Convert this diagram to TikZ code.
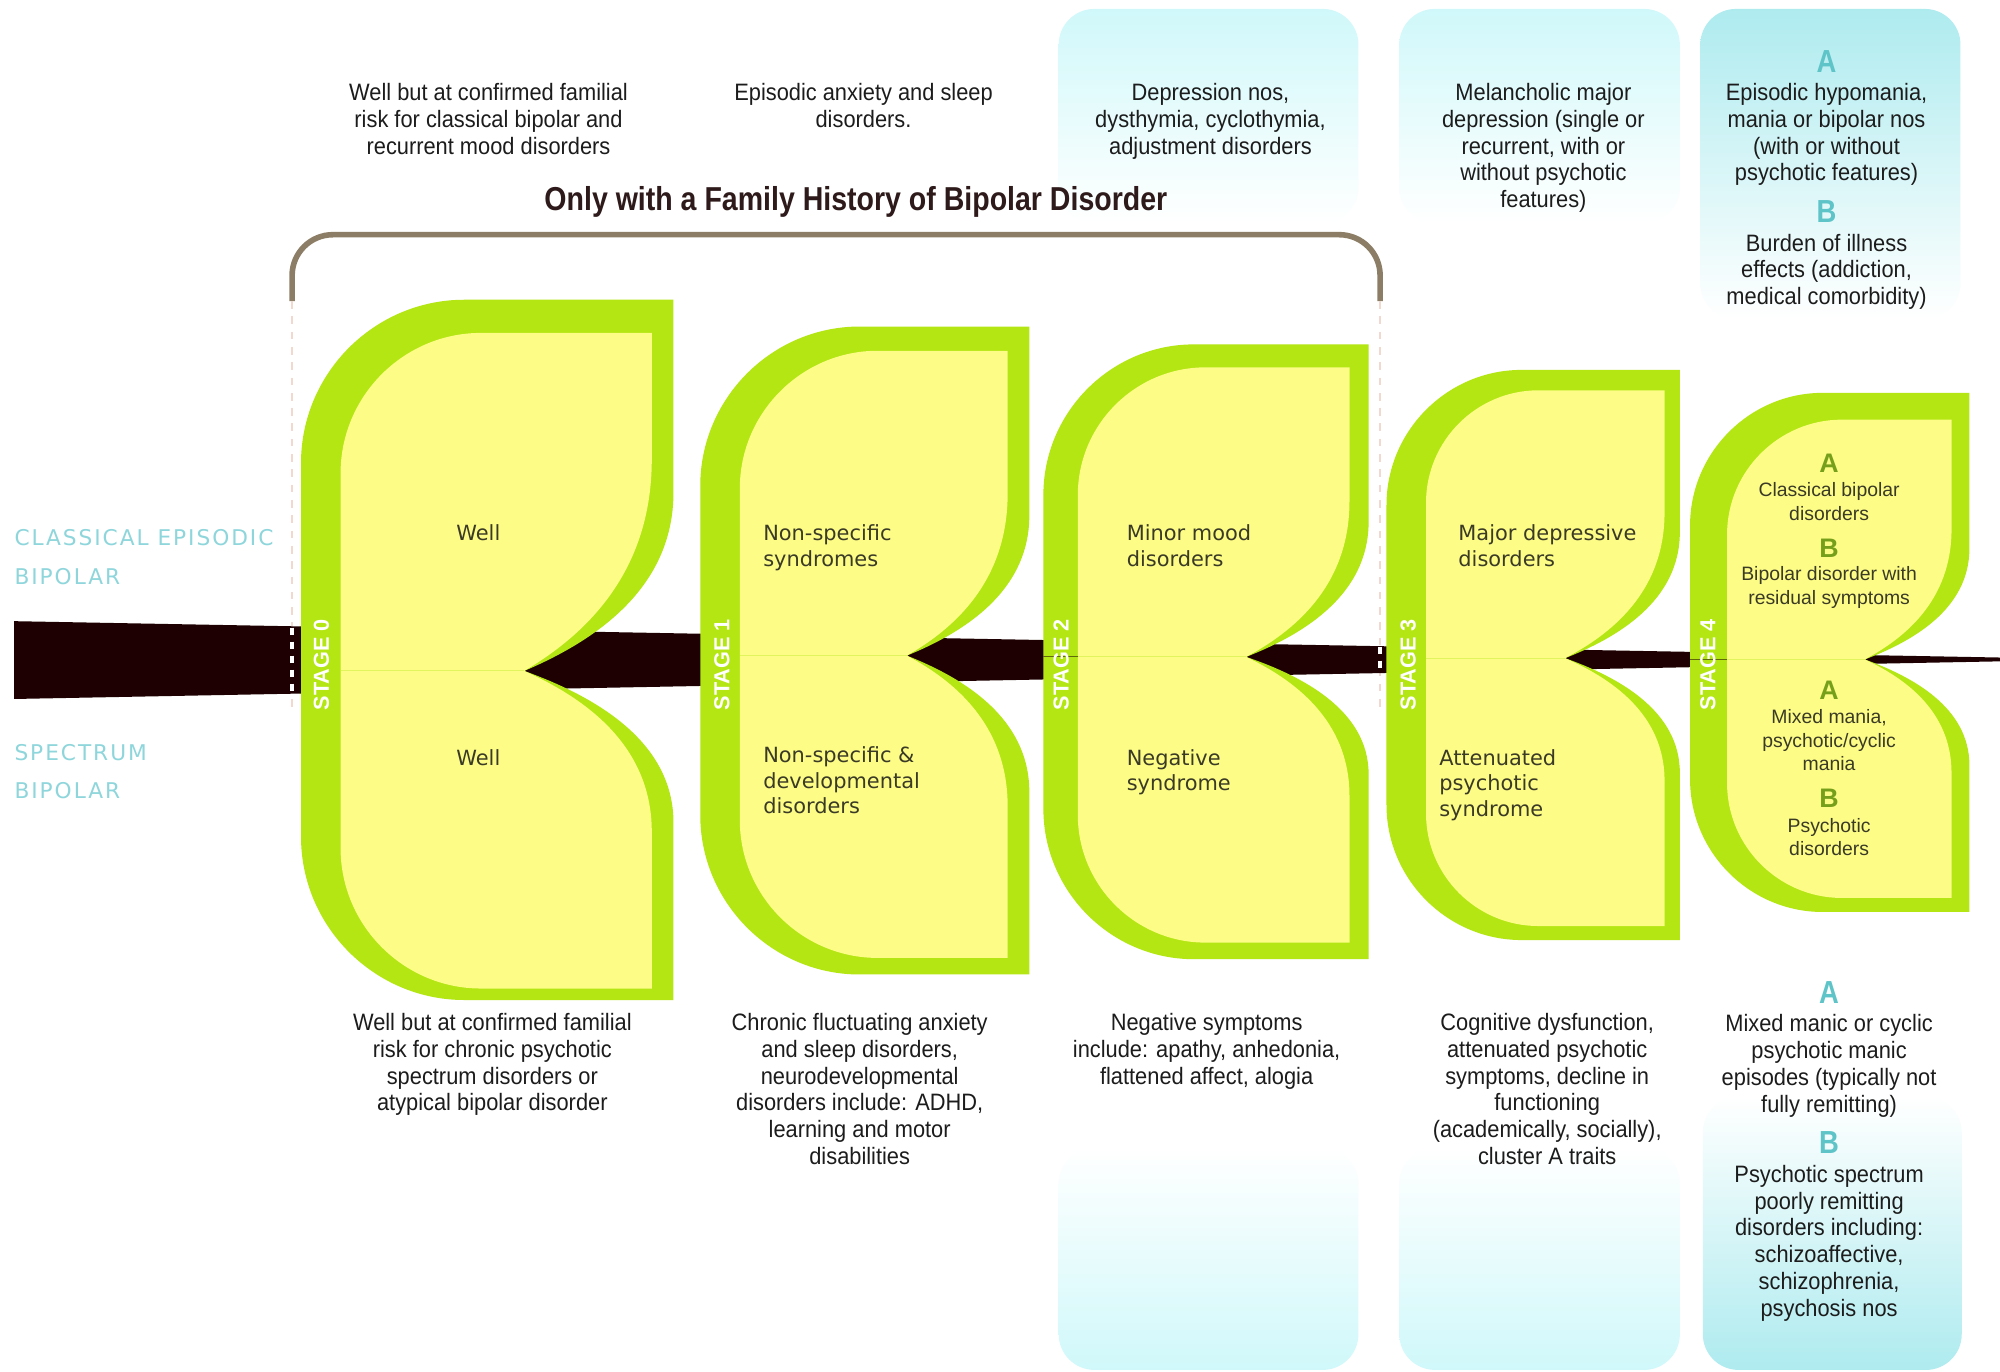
\documentclass[tikz,border=0pt]{standalone}
\usepackage{fontspec}
\setmainfont{Liberation Sans}
\newfontfamily\bodyfont[FakeStretch=0.92]{Liberation Sans}
\newfontfamily\headfont[FakeStretch=0.86]{Liberation Sans}
\newfontfamily\leaffont{DejaVu Sans}
\newfontfamily\sidefont[LetterSpace=9]{DejaVu Sans}

\definecolor{leafgreen}{HTML}{B3E612}
\definecolor{leafyellow}{HTML}{FCFC86}
\definecolor{spine}{HTML}{1E0002}
\definecolor{bracketbrown}{HTML}{8C7E66}
\definecolor{dashpink}{HTML}{F2D9D0}
\definecolor{sideteal}{HTML}{8ED6DB}
\definecolor{letterteal}{HTML}{5EC4C8}
\definecolor{paleteal}{HTML}{D0F8FA}
\definecolor{deepteal}{HTML}{AEEBEF}
\definecolor{leafink}{HTML}{3A3A26}
\definecolor{stageolive}{HTML}{76A01C}
\definecolor{titleink}{HTML}{2E1A1A}
\definecolor{bodyink}{HTML}{1C1C1C}

% Leaf outline: #1 left, #2 top, #3 right, #4 bottom, #5/#6 notch point,
% #7 left corner radius, #8 height of upper lobe curve, #9 height of lower lobe curve
\newcommand\leafpath[9]{%
  (#1,{#2+#7}) .. controls (#1,{#2+0.45*#7}) and ({#1+0.45*#7},#2) .. ({#1+#7},#2)
  -- (#3,#2) -- (#3,{#6-#8})
  .. controls (#3,{#6-0.45*#8}) and ({#5+0.45*(#3-#5)},{#6-0.16*#8}) .. (#5,#6)
  .. controls ({#5+0.45*(#3-#5)},{#6+0.16*#9}) and (#3,{#6+0.45*#9}) .. (#3,{#6+#9})
  -- (#3,#4) -- ({#1+#7},#4)
  .. controls ({#1+0.45*#7},#4) and (#1,{#4-0.45*#7}) .. (#1,{#4-#7}) -- cycle}

\tikzset{
  body/.style={font=\bodyfont\fontsize{9.3}{10.5}\selectfont, text=bodyink,
    align=center, anchor=north, inner sep=0pt},
  leaftext/.style={font=\leaffont\fontsize{8.2}{10}\selectfont, text=leafink,
    align=left, anchor=north west, inner sep=0pt},
  stagefour/.style={font=\fontsize{7.6}{9.2}\selectfont, text=leafink,
    align=center, anchor=north, inner sep=0pt},
  stageletter/.style={font=\bfseries\fontsize{10.5}{12}\selectfont,
    text=stageolive, inner sep=0pt},
  boxletter/.style={font=\headfont\bfseries\fontsize{12.5}{14}\selectfont,
    text=letterteal, inner sep=0pt},
  stagetag/.style={font=\bfseries\fontsize{8.5}{10}\selectfont, text=white,
    rotate=90, inner sep=0pt},
  sidelabel/.style={font=\sidefont\fontsize{8.5}{15}\selectfont, text=sideteal,
    align=left, anchor=north west, inner sep=0pt},
  guide/.style={dashpink, line width=0.6pt, dash pattern=on 3pt off 3pt},
  barguide/.style={white, line width=1.4pt, dash pattern=on 3pt off 2.5pt},
  notchline/.style={leafgreen!35!leafyellow, line width=0.35pt},
  bandline/.style={spine!55!leafgreen, line width=0.35pt}
}

\begin{document}
\begin{tikzpicture}[x=0.5pt, y=-0.5pt]
\useasboundingbox (0,0) rectangle (1568,1075);
\fill[white] (0,0) rectangle (1568,1075);

% tinted columns above and below
\shade[top color=paleteal, bottom color=white, rounded corners=14pt] (830,7) rectangle (1065,175);
\shade[top color=paleteal, bottom color=white, rounded corners=14pt] (1097,7) rectangle (1317,175);
\shade[top color=deepteal, bottom color=white, rounded corners=14pt] (1333,7) rectangle (1537,250);
\shade[top color=white, bottom color=paleteal, rounded corners=14pt] (830,900) rectangle (1065,1074);
\shade[top color=white, bottom color=paleteal, rounded corners=14pt] (1097,900) rectangle (1317,1074);
\shade[top color=white, bottom color=deepteal, rounded corners=14pt] (1335,860) rectangle (1538,1074);

% family history bracket and its guides
\draw[bracketbrown, line width=2.2pt, rounded corners=16pt]
  (229,236) -- (229,184) -- (1082,184) -- (1082,236);
\draw[guide] (229,236) -- (229,557);
\draw[guide] (1082,236) -- (1082,557);

% tapering spine
\fill[spine] (11,487) -- (1568,515.5) -- (1568,518.5) -- (11,548) -- cycle;
\draw[barguide] (229,492) -- (229,544);
\draw[barguide] (1082,507) -- (1082,528);

% stage leaves
\fill[leafgreen]  \leafpath{236}{235}{528}{784}{411}{526}{128}{140}{119};
\fill[leafyellow] \leafpath{267}{261}{511}{775}{411}{526}{110}{166}{126};
\draw[notchline] (267,526) -- (411,526);

\fill[leafgreen]  \leafpath{549}{256}{807}{764}{711}{514}{125}{110}{107};
\fill[leafyellow] \leafpath{580}{275}{790}{751}{711}{514}{108}{127}{118};
\draw[notchline] (580,514) -- (711,514);

\fill[leafgreen]  \leafpath{818}{270}{1073}{752}{977}{515}{118}{106}{92};
\fill[leafyellow] \leafpath{845}{288}{1058}{739}{977}{515}{100}{122}{109};
\draw[bandline] (818,515) -- (845,515);
\draw[notchline] (845,515) -- (977,515);

\fill[leafgreen]  \leafpath{1087}{290}{1317}{737}{1227}{516}{106}{99}{90};
\fill[leafyellow] \leafpath{1118}{306}{1305}{726}{1227}{516}{88}{114}{96};
\draw[notchline] (1118,516) -- (1227,516);

\fill[leafgreen]  \leafpath{1325}{308}{1544}{715}{1462}{517}{104}{87}{83};
\fill[leafyellow] \leafpath{1354}{329}{1530}{704}{1462}{517}{90}{102}{89};
\draw[bandline] (1325,517) -- (1354,517);
\draw[notchline] (1354,517) -- (1462,517);

% stage tags
\node[stagetag] (tag0) at (252,521) {STAGE 0};
\node[stagetag] (tag1) at (566,521) {STAGE 1};
\node[stagetag] (tag2) at (832,521) {STAGE 2};
\node[stagetag] (tag3) at (1104,521) {STAGE 3};
\node[stagetag] (tag4) at (1339,521) {STAGE 4};

% leaf contents
\node[font=\leaffont\fontsize{8.2}{10}\selectfont, text=leafink, inner sep=0pt] (well0) at (375,418) {Well};
\node[font=\leaffont\fontsize{8.2}{10}\selectfont, text=leafink, inner sep=0pt] (well1) at (375,594) {Well};
\node[leaftext] (up1) at (598,411) {Non-specific\\syndromes};
\node[leaftext] (lo1) at (598,585) {Non-specific \&\\developmental\\disorders};
\node[leaftext] (up2) at (883,411) {Minor mood\\disorders};
\node[leaftext] (lo2) at (883,587) {Negative\\syndrome};
\node[leaftext] (up3) at (1143,411) {Major depressive\\disorders};
\node[leaftext] (lo3) at (1128,587) {Attenuated\\psychotic\\syndrome};

\node[stageletter] (s4a1) at (1434,363) {A};
\node[stagefour] (s4t1) at (1434,378) {Classical bipolar\\disorders};
\node[stageletter] (s4b1) at (1434,430) {B};
\node[stagefour] (s4t2) at (1434,444) {Bipolar disorder with\\residual symptoms};
\node[stageletter] (s4a2) at (1434,541) {A};
\node[stagefour] (s4t3) at (1434,556) {Mixed mania,\\psychotic/cyclic\\mania};
\node[stageletter] (s4b2) at (1434,626) {B};
\node[stagefour] (s4t4) at (1434,641) {Psychotic\\disorders};

% side labels
\node[sidelabel] (classical) at (11,415) {CLASSICAL EPISODIC\\BIPOLAR};
\node[sidelabel] (spectrum) at (11,583) {SPECTRUM\\BIPOLAR};

% title
\node[font=\headfont\bfseries\fontsize{13}{15}\selectfont, text=titleink, inner sep=0pt]
  (title) at (671,158) {Only with a Family History of Bipolar Disorder};

% upper descriptions
\node[body] (top0) at (383,65) {Well but at confirmed familial\\risk for classical bipolar and\\recurrent mood disorders};
\node[body] (top1) at (677,65) {Episodic anxiety and sleep\\disorders.};
\node[body] (top2) at (949,65) {Depression nos,\\dysthymia, cyclothymia,\\adjustment disorders};
\node[body] (top3) at (1210,65) {Melancholic major\\depression (single or\\recurrent, with or\\without psychotic\\features)};
\node[boxletter] (topA) at (1432,48) {A};
\node[body] (top4) at (1432,65) {Episodic hypomania,\\mania or bipolar nos\\(with or without\\psychotic features)};
\node[boxletter] (topB) at (1432,166) {B};
\node[body] (top4b) at (1432,183) {Burden of illness\\effects (addiction,\\medical comorbidity)};

% lower descriptions
\node[body] (bot0) at (386,794) {Well but at confirmed familial\\risk for chronic psychotic\\spectrum disorders or\\atypical bipolar disorder};
\node[body] (bot1) at (674,794) {Chronic fluctuating anxiety\\and sleep disorders,\\neurodevelopmental\\disorders include: ADHD,\\learning and motor\\disabilities};
\node[body] (bot2) at (946,794) {Negative symptoms\\include: apathy, anhedonia,\\flattened affect, alogia};
\node[body] (bot3) at (1213,794) {Cognitive dysfunction,\\attenuated psychotic\\symptoms, decline in\\functioning\\(academically, socially),\\cluster A traits};
\node[boxletter] (botA) at (1434,778) {A};
\node[body] (bot4) at (1434,795) {Mixed manic or cyclic\\psychotic manic\\episodes (typically not\\fully remitting)};
\node[boxletter] (botB) at (1434,896) {B};
\node[body] (bot4b) at (1434,913) {Psychotic spectrum\\poorly remitting\\disorders including:\\schizoaffective,\\schizophrenia,\\psychosis nos};
\end{tikzpicture}
\end{document}
